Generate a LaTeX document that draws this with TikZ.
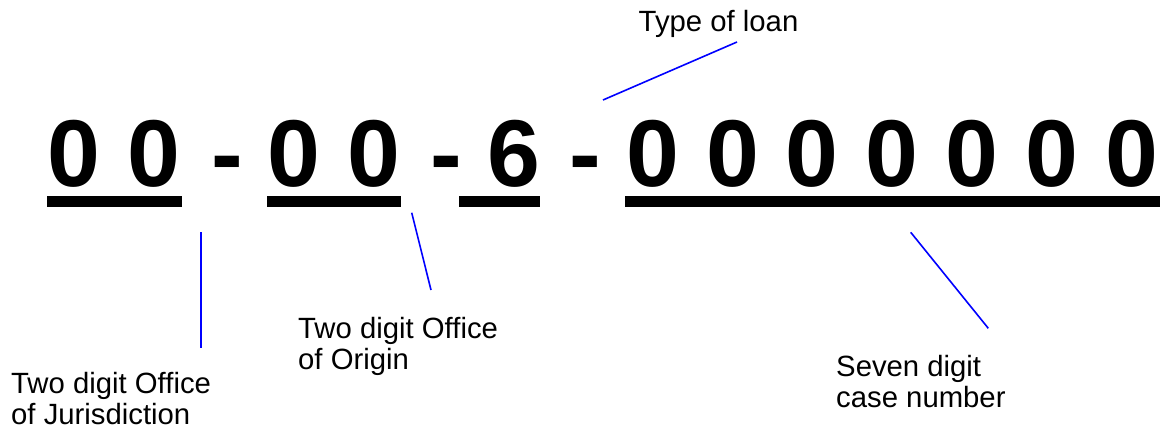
\documentclass[tikz,border=0pt]{standalone}
\usepackage{fontspec}
\setmainfont{Liberation Sans}
\usetikzlibrary{positioning}
\definecolor{Pointer}{HTML}{0000FF}
\newcommand{\codefont}{\fontsize{95}{95}\selectfont\bfseries\spaceskip 27pt\relax}
\newcommand{\notefont}{\fontsize{29.3}{31}\selectfont}
\tikzset{
  digits/.style={font={\codefont}, inner sep=0pt, anchor=base},
  hyph/.style={digits},
  bar/.style={fill=black},
  note/.style={font={\notefont}, align=left, anchor=base west, inner sep=0pt},
  pointer/.style={draw=Pointer, line width=1.6pt},
}

\begin{document}
\begin{tikzpicture}[x=1pt, y=-1pt]
  \path[use as bounding box, fill=white] (0,0) rectangle (1169,428);

  \node[digits] (jur) at (114.2,186) {0 0};
  \node[hyph] (dash1) at (227,186) {-};
  \node[digits] (org) at (333.7,186) {0 0};
  \node[hyph] (dash2) at (446,186) {-};
  \node[digits] (loan) at (514,186) {6};
  \node[hyph] (dash3) at (585,186) {-};
  \node[digits] (case) at (892.2,186) {0 0 0 0 0 0 0};

  \fill[bar] (47,196) rectangle (182,207);
  \fill[bar] (267,196) rectangle (401,207);
  \fill[bar] (459,196) rectangle (540,207);
  \fill[bar] (625,196) rectangle (1160,207);

  \node[note] (loan-lbl) at (638.5,32) {Type of loan};
  \node[note] (org-lbl) at (298,369) {Two digit Office\\of Origin};
  \node[note] (jur-lbl) at (11,424) {Two digit Office\\of Jurisdiction};
  \node[note] (case-lbl) at (836,407) {Seven digit\\case number};

  \coordinate (loan-tip) at (603,100);
  \coordinate (loan-end) at (737,42);
  \coordinate (org-tip) at (411.7,212.7);
  \coordinate (org-end) at (431,290);
  \coordinate (jur-tip) at (200.7,232);
  \coordinate (jur-end) at (200.7,348);
  \coordinate (case-tip) at (910.7,232.3);
  \coordinate (case-end) at (988.3,328.3);

  \draw[pointer] (loan-tip) -- (loan-end);
  \draw[pointer] (org-tip) -- (org-end);
  \draw[pointer] (jur-tip) -- (jur-end);
  \draw[pointer] (case-tip) -- (case-end);
\end{tikzpicture}
\end{document}
